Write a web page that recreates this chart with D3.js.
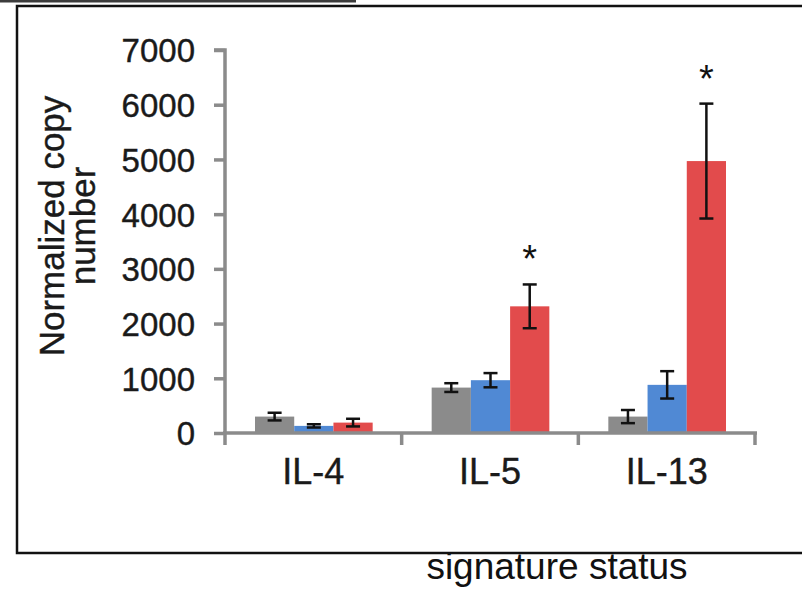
<!DOCTYPE html>
<html>
<head>
  <meta charset="utf-8">
  <script src="https://d3js.org/d3.v7.min.js"></script>
  <style>
    body { margin: 0; background: #fff; }
    text { font-family: "Liberation Sans", Arial, sans-serif; }
  </style>
</head>
<body>
<script>
// data
var categories = ["IL-4", "IL-5", "IL-13"];
var seriesNames = ["grey", "blue", "red"];
var greyMeans = [300, 830, 300];
var greyErrs = [70, 80, 120];
var blueMeans = [130, 965, 880];
var blueErrs = [30, 130, 250];
var redMeans = [190, 2315, 4970];
var redErrs = [70, 400, 1050];
var redStars = [false, true, true];
var yTicks = [0, 1000, 2000, 3000, 4000, 5000, 6000, 7000];

var colors = { grey: "#8b8b8b", blue: "#5089d4", red: "#e24b4c" };

var rows = [];
categories.forEach(function (c, i) {
  rows.push({ cat: c, s: "grey", v: greyMeans[i], e: greyErrs[i], star: false });
  rows.push({ cat: c, s: "blue", v: blueMeans[i], e: blueErrs[i], star: false });
  rows.push({ cat: c, s: "red", v: redMeans[i], e: redErrs[i], star: redStars[i] });
});

var W = 802, H = 590;
var svg = d3.select("body").append("svg")
  .attr("width", W)
  .attr("height", H);

// frame pieces
svg.append("rect")
  .attr("x", 17).attr("y", 6)
  .attr("width", 800).attr("height", 547)
  .attr("fill", "none")
  .attr("stroke", "#111")
  .attr("stroke-width", 2.5);
svg.append("line")
  .attr("x1", 0).attr("x2", 356)
  .attr("y1", 1).attr("y2", 1)
  .attr("stroke", "#3c3c3c")
  .attr("stroke-width", 3);

var x0 = 225, x1 = 755, yTop = 50, yBot = 433;

var y = d3.scaleLinear().domain([0, 7000]).range([yBot, yTop]);
var x = d3.scaleBand().domain(categories).range([x0, x1]);
var xs = d3.scaleBand().domain(seriesNames).range([30, x.bandwidth() - 29]);

// bars
svg.selectAll("rect.bar")
  .data(rows)
  .enter()
  .append("rect")
  .attr("class", "bar")
  .attr("x", function (d) { return x(d.cat) + xs(d.s); })
  .attr("y", function (d) { return y(d.v); })
  .attr("width", xs.bandwidth())
  .attr("height", function (d) { return y(0) - y(d.v); })
  .attr("fill", function (d) { return colors[d.s]; });

// error bars
var eb = svg.selectAll("g.err")
  .data(rows)
  .enter()
  .append("g")
  .attr("class", "err")
  .attr("stroke", "#111")
  .attr("stroke-width", 2.5);
function cx(d) { return x(d.cat) + xs(d.s) + xs.bandwidth() / 2; }
eb.append("line")
  .attr("x1", cx).attr("x2", cx)
  .attr("y1", function (d) { return y(d.v + d.e); })
  .attr("y2", function (d) { return y(d.v - d.e); });
eb.append("line")
  .attr("x1", function (d) { return cx(d) - 7; })
  .attr("x2", function (d) { return cx(d) + 7; })
  .attr("y1", function (d) { return y(d.v + d.e); })
  .attr("y2", function (d) { return y(d.v + d.e); });
eb.append("line")
  .attr("x1", function (d) { return cx(d) - 7; })
  .attr("x2", function (d) { return cx(d) + 7; })
  .attr("y1", function (d) { return y(d.v - d.e); })
  .attr("y2", function (d) { return y(d.v - d.e); });

// significance stars
svg.selectAll("text.star")
  .data(rows.filter(function (d) { return d.star; }))
  .enter()
  .append("text")
  .attr("class", "star")
  .attr("x", cx)
  .attr("y", function (d) { return y(d.v + d.e) - 12; })
  .attr("text-anchor", "middle")
  .style("font-size", "38px")
  .attr("fill", "#111")
  .text("*");

// y axis
var yAxis = svg.append("g")
  .attr("transform", "translate(" + x0 + ",0)")
  .call(d3.axisLeft(y).tickValues(yTicks).tickSize(11).tickPadding(19).tickFormat(d3.format("d")));
yAxis.selectAll("path, line").attr("stroke", "#8b8b8b").attr("stroke-width", 3.5);
yAxis.select("path").attr("d", "M-11," + yTop + "H0V" + yBot);
yAxis.selectAll("text")
  .attr("fill", "#1a1a1a")
  .attr("stroke", "#1a1a1a").attr("stroke-width", 0.4)
  .style("font-size", "33px")
  .attr("dy", "0.36em");

// x axis: labels at band centres, ticks at band edges
var xAxis = svg.append("g")
  .attr("transform", "translate(0," + yBot + ")")
  .call(d3.axisBottom(x).tickSize(0).tickPadding(25));
xAxis.select("path").remove();
xAxis.selectAll("text")
  .attr("fill", "#1a1a1a")
  .attr("stroke", "#1a1a1a").attr("stroke-width", 0.4)
  .style("font-size", "36px");
xAxis.append("line")
  .attr("x1", x0 - 2).attr("x2", x1 + 2)
  .attr("stroke", "#8b8b8b").attr("stroke-width", 3.5);
xAxis.selectAll("line.edge")
  .data(categories.map(function (c) { return x(c); }).concat([x1]))
  .enter()
  .append("line")
  .attr("class", "edge")
  .attr("x1", function (d) { return d; })
  .attr("x2", function (d) { return d; })
  .attr("y1", 0).attr("y2", 12)
  .attr("stroke", "#8b8b8b").attr("stroke-width", 3.5);

// y title
var yt = svg.append("text")
  .attr("transform", "translate(64,226) rotate(-90)")
  .attr("text-anchor", "middle")
  .attr("fill", "#1a1a1a")
  .attr("stroke", "#1a1a1a").attr("stroke-width", 0.4)
  .style("font-size", "35px");
yt.append("tspan").attr("x", 0).attr("dy", 0).text("Normalized copy");
yt.append("tspan").attr("x", 0).attr("dy", "0.88em").text("number");

// x title below the frame
svg.append("text")
  .attr("x", 557)
  .attr("y", 579)
  .attr("text-anchor", "middle")
  .attr("fill", "#111")
  .style("font-size", "37px")
  .text("signature status");
</script>
</body>
</html>
